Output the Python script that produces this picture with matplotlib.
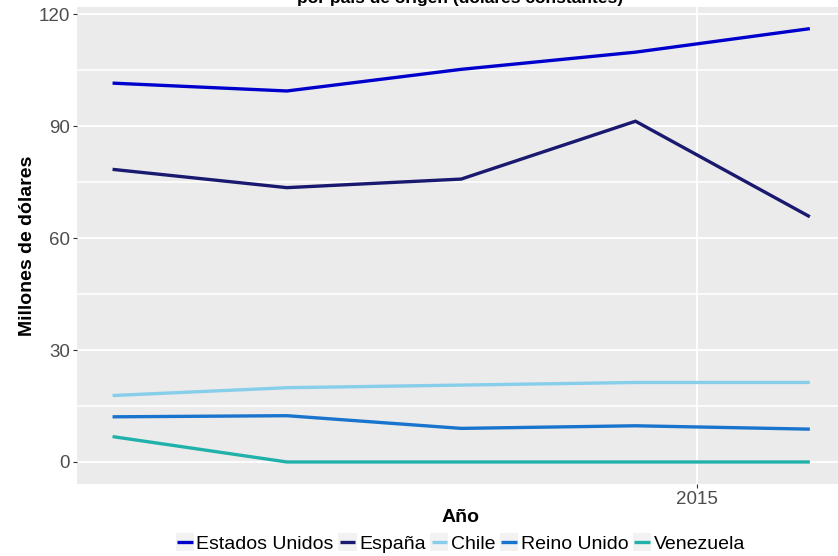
import matplotlib
matplotlib.use("Agg")
import matplotlib.pyplot as plt
from matplotlib.legend_handler import HandlerLine2D
from matplotlib.patches import Rectangle

plt.rcParams['font.family'] = ['Liberation Sans', 'DejaVu Sans']

# datos
anio = [2011.65, 2012.65, 2013.65, 2014.65, 2015.65]
paises = ['Estados Unidos', 'España', 'Chile', 'Reino Unido', 'Venezuela']
estados_unidos = [101.5, 99.4, 105.2, 109.8, 116.1]
espana = [78.4, 73.5, 75.8, 91.3, 65.7]
chile = [17.8, 19.9, 20.6, 21.3, 21.3]
reino_unido = [12.1, 12.4, 9.0, 9.7, 8.8]
venezuela = [6.8, 0.0, 0.0, 0.0, 0.0]
colores = ['#0000CD', '#191970', '#87CEEB', '#1874CD', '#20B2AA']
y_ticks = [0, 30, 60, 90, 120]
y_minor = [15, 45, 75, 105]
x_ticks = [2015]


# clave de leyenda con fondo gris como ggplot
class HandlerKey(HandlerLine2D):
    def create_artists(self, legend, orig_handle, xdescent, ydescent,
                       width, height, fontsize, trans):
        arts = super().create_artists(legend, orig_handle, xdescent, ydescent,
                                      width, height, fontsize, trans)
        rect = Rectangle((-xdescent - 1, -ydescent - 1.5), width + 2, height + 3,
                         facecolor='#F2F2F2', edgecolor='none', transform=trans)
        return [rect] + arts


fig = plt.figure(figsize=(8.38, 5.56), dpi=100)
ax = fig.add_axes([77 / 838, 1 - 484 / 556, 767 / 838, 477 / 556])
ax.set_facecolor('#EBEBEB')

series = [estados_unidos, espana, chile, reino_unido, venezuela]
for nombre, valores, color in zip(paises, series, colores):
    ax.plot(anio, valores, color=color, lw=2.4, label=nombre,
            solid_capstyle='butt', solid_joinstyle='miter')

ax.set_xlim(2011.446, 2015.846)
ax.set_ylim(-5.9, 121.9)
ax.set_yticks(y_ticks)
ax.set_yticks(y_minor, minor=True)
ax.set_xticks(x_ticks)
ax.grid(which='major', color='white', lw=1.3)
ax.grid(which='minor', axis='y', color='white', lw=1.1)
ax.set_axisbelow(True)
for s in ax.spines.values():
    s.set_visible(False)
ax.tick_params(which='major', length=3, width=0.8, color='#333333',
               labelcolor='#4D4D4D', labelsize=13.5, pad=2)
ax.tick_params(which='minor', length=0)

ax.set_xlabel('Año', fontsize=14, fontweight='bold', labelpad=1)
ax.set_ylabel('Millones de dólares', fontsize=14, fontweight='bold', labelpad=2)

fig.text(460.5 / 838, 1 - 2.5 / 556, 'por país de origen (dólares constantes)',
         ha='center', va='baseline', fontsize=12.5, fontweight='bold')

leg = fig.legend(loc='center', bbox_to_anchor=(461 / 838, 1 - 544 / 556), ncol=5,
                 frameon=False, fontsize=14, handlelength=0.8, handletextpad=0.2,
                 columnspacing=0.3, borderaxespad=0,
                 handler_map={plt.Line2D: HandlerKey()})
for ln in leg.get_lines():
    ln.set_linewidth(3)

fig.savefig('out.png', dpi=100)
